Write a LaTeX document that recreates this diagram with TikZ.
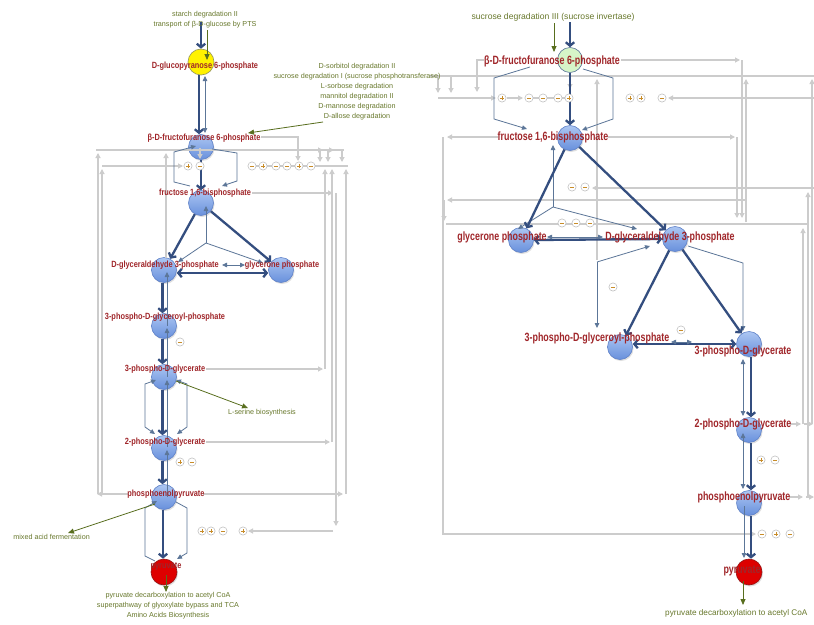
\documentclass[tikz,border=0pt]{standalone}
\usepackage{fontspec}
\setmainfont{Liberation Sans}
\newfontfamily\labLf[FakeStretch=0.82]{Liberation Sans}
\newfontfamily\labRf[FakeStretch=0.74]{Liberation Sans}
\newfontfamily\grnf{Liberation Sans}
\usetikzlibrary{arrows.meta,shadows}
\definecolor{labc}{RGB}{160,38,42}
\definecolor{thk}{RGB}{52,78,127}
\definecolor{thn}{RGB}{92,118,152}
\definecolor{gryc}{RGB}{204,204,204}
\definecolor{grnc}{RGB}{88,110,30}
\definecolor{grt}{RGB}{104,120,44}
\definecolor{sgnc}{RGB}{200,140,40}
\definecolor{regb}{RGB}{185,185,185}
\definecolor{mett}{RGB}{172,198,242}
\definecolor{metbt}{RGB}{104,144,220}
\definecolor{metb}{RGB}{96,130,200}
\definecolor{yelc}{RGB}{255,242,0}
\definecolor{yelb}{RGB}{150,150,90}
\definecolor{lgc}{RGB}{214,245,200}
\definecolor{redc}{RGB}{222,0,0}
\definecolor{redb}{RGB}{150,20,20}
\tikzset{
 met/.style={circle,inner sep=0,minimum size=25pt,draw=metb,line width=0.6pt,top color=mett,bottom color=metbt,drop shadow={opacity=0.25,shadow xshift=1pt,shadow yshift=-1.5pt}},
 metY/.style={circle,inner sep=0,minimum size=26pt,draw=yelb,line width=0.6pt,fill=yelc},
 metG/.style={circle,inner sep=0,minimum size=25pt,draw=thn,line width=0.6pt,fill=lgc},
 metR/.style={circle,inner sep=0,minimum size=26pt,draw=redb,line width=0.6pt,fill=redc,drop shadow={opacity=0.25,shadow xshift=1pt,shadow yshift=-1.5pt}},
 ll/.style={text=labc,font=\labLf\bfseries\fontsize{9}{9}\selectfont,inner sep=0},
 lr/.style={text=labc,font=\labRf\bfseries\fontsize{12}{12}\selectfont,inner sep=0},
 gt/.style={text=grt,font=\grnf\fontsize{7.2}{10}\selectfont,inner sep=0,align=center},
 gtr/.style={text=grt,font=\grnf\fontsize{8.6}{10}\selectfont,inner sep=0},
 tk/.style={draw=thk,line width=2.3pt,-{Straight Barb[length=3.5pt,width=8.5pt]}},
 tkb/.style={draw=thk,line width=2.3pt,{Straight Barb[length=3.5pt,width=8.5pt]}-{Straight Barb[length=3.5pt,width=8.5pt]}},
 tnl/.style={draw=thn,line width=0.8pt},
 tn/.style={draw=thn,line width=0.8pt,-{Triangle[length=5pt,width=4.5pt]}},
 tnb/.style={draw=thn,line width=0.8pt,{Triangle[length=5pt,width=4.5pt]}-{Triangle[length=5pt,width=4.5pt]}},
 gl/.style={draw=gryc,line width=1.1pt},
 ga/.style={draw=gryc,line width=1.1pt,-{Triangle[length=5pt,width=5pt]}},
 gn/.style={draw=grnc,line width=0.8pt,-{Triangle[length=6pt,width=5pt]}},
 rp/.pic={\draw[draw=regb,fill=white,line width=0.5pt] (0,0) circle (4.1);
          \draw[sgnc,line width=0.9pt] (-2.2,0)--(2.2,0) (0,-2.2)--(0,2.2);},
 rm/.pic={\draw[draw=regb,fill=white,line width=0.5pt] (0,0) circle (4.1);
          \draw[sgnc,line width=0.9pt] (-2.2,0)--(2.2,0);}
}
\begin{document}
\begin{tikzpicture}[x=1pt,y=-1pt]
\useasboundingbox (0,0) rectangle (814,624);
\fill[white] (0,0) rectangle (814,624);

% ================= LEFT: metabolite circles =================
\node[metY] (A1) at (201,62) {};
\node[met] (A2) at (201,147) {};
\node[met] (A3) at (201,203) {};
\node[met] (A4) at (164,270) {};
\node[met] (A5) at (281,270) {};
\node[met] (A6) at (164,326) {};
\node[met] (A7) at (164,377) {};
\node[met] (A8) at (164,448) {};
\node[met] (A9) at (164,497) {};
\node[metR] (A10) at (164,572) {};

% ================= RIGHT: metabolite circles =================
\node[metG] (B1) at (570,60) {};
\node[met] (B2) at (570,138) {};
\node[met] (B3) at (521,240) {};
\node[met] (B4) at (675,239) {};
\node[met] (B5) at (620,347) {};
\node[met] (B6) at (749,344) {};
\node[met] (B7) at (749,430) {};
\node[met] (B8) at (749,503) {};
\node[metR] (B9) at (749,572) {};

% ================= LEFT: gray regulation lines =================
\draw[ga] (128,494) -- (97,494);
\draw[ga] (98,494) -- (98,153);
\draw[gl] (96,150) -- (344,150);
\draw[ga] (102,494) -- (102,169);
\draw[ga] (102,166) -- (183,166);
\draw[ga] (166,258) -- (166,153);
\draw[ga] (261,137) -- (298,137) -- (298,161);
\draw[ga] (320,150) -- (320,162);
\draw[ga] (328,150) -- (328,162);
\draw[ga] (342,150) -- (342,162);
\draw[ga] (310,150) -- (323,150);
\draw[ga] (325,150) -- (334,150);
\draw[gl] (256,166) -- (348,166);
\draw[ga] (206,369) -- (323,369);
\draw[ga] (325,369) -- (325,169);
\draw[ga] (206,442) -- (330,442);
\draw[ga] (332,442) -- (332,169);
\draw[ga] (203,494) -- (343,494);
\draw[ga] (346,494) -- (346,169);
\draw[ga] (252,193) -- (333,193);
\draw[ga] (336,193) -- (336,526);
\draw[ga] (333,531) -- (248,531);
\draw[ga] (200,148) -- (200,159);

% ================= RIGHT: gray regulation lines =================
\draw[ga] (484,60) -- (477,60) -- (477,92);
\draw[ga] (621,60) -- (740,60);
\draw[ga] (742,60) -- (742,218);
\draw[gl] (430,76) -- (814,76);
\draw[ga] (438,76) -- (438,93);
\draw[ga] (451,76) -- (451,93);
\draw[ga] (597,260) -- (597,79);
\draw[ga] (746,222) -- (746,79);
\draw[ga] (812,424) -- (812,79);
\draw[ga] (438,98) -- (496,98);
\draw[ga] (507,98) -- (523,98);
\draw[gl] (533,98) -- (566,98);
\draw[ga] (814,98) -- (668,98);
\draw[ga] (570,76) -- (570,89);
\draw[ga] (608,137) -- (735,137);
\draw[ga] (737,137) -- (737,218);
\draw[ga] (498,137) -- (447,137);
\draw[ga] (443,137) -- (443,534) -- (756,534);
\draw[ga] (814,188) -- (592,188);
\draw[ga] (808,497) -- (808,192);
\draw[ga] (745,200) -- (447,200);
\draw[ga] (444,200) -- (444,221);
\draw[gl] (446,224) -- (808,224);
\draw[ga] (803,424) -- (803,228);
\draw[ga] (790,424) -- (801,424);
\draw[ga] (804,424) -- (813,424);
\draw[ga] (789,497) -- (803,497);
\draw[ga] (806,497) -- (814,497);

% ================= LEFT: reactions =================
\coordinate (inL) at (201,22);
\draw[tk] (inL) -- (A1.north);
\draw[gn] (207,30) -- (207,60);
\draw[tk] ([xshift=-2pt]A1.south) -- ([xshift=-2pt]A2.north);
\draw[tnb] (205,76) -- (205,133);
\draw[gn] (323,122) -- (248,133);
\draw[tk] (A2.south) -- (A3.north);
\draw[tn] (190,186) -- (174,182) -- (174,152) -- (196,146);
\draw[tn] (212,149) -- (237,153) -- (237,181) -- (222,186);
\coordinate (cL) at (206,243);
\draw[tn] (cL) -- (206,206);
\draw[tn] (cL) -- (178,262);
\draw[tn] (cL) -- (263,263);
\draw[tk] (A3) -- (A4);
\draw[tk] (A3) -- (A5);
\draw[tkb] ([yshift=-3pt]A4.east) -- ([yshift=-3pt]A5.west);
\draw[tnb] (222,265) -- (245,265);
\draw[tk] ([xshift=-1.5pt]A4.south) -- ([xshift=-1.5pt]A6.north);
\draw[tn] (167,326) -- (167,272);
\draw[tk] ([xshift=-1.5pt]A6.south) -- ([xshift=-1.5pt]A7.north);
\draw[tn] (167,377) -- (167,328);
\draw[tk] ([xshift=-1.5pt]A7.south) -- ([xshift=-1.5pt]A8.north);
\draw[tn] (167,447) -- (167,380);
\draw[tnb] (156,380) -- (145,384) -- (145,427) -- (155,434);
\draw[tnb] (176,380) -- (187,384) -- (187,427) -- (177,434);
\draw[gn] (176,381) -- (248,408);
\draw[tk] ([xshift=-1.5pt]A8.south) -- ([xshift=-1.5pt]A9.north);
\draw[tn] (167,497) -- (167,450);
\draw[tk] ([xshift=-1pt]A9.south) -- ([xshift=-1pt]A10.north);
\draw[tn] (155,561) -- (145,556) -- (145,508) -- (157,501);
\draw[tn] (176,502) -- (187,508) -- (187,553) -- (177,559);
\draw[gn] (155,504) -- (68,533);
\draw[gn] (166,575) -- (166,592);

% ================= RIGHT: reactions =================
\coordinate (inR) at (570,22);
\draw[tk] (inR) -- (B1.north);
\draw[gn] (554,23) -- (554,52);
\draw[tk] (B1.south) -- (B2.north);
\draw[tn] (530,67) -- (494,78) -- (494,119) -- (527,129);
\draw[tn] (583,69) -- (613,78) -- (613,119) -- (582,130);
\coordinate (cR) at (553,207);
\draw[tn] (cR) -- (553,145);
\draw[tn] (cR) -- (518,229);
\draw[tn] (cR) -- (637,229);
\draw[tk] (B2) -- (B3);
\draw[tk] (B2) -- (B4);
\draw[tkb] (B3.east) -- (B4.west);
\draw[tnb] (547,237) -- (603,237);
\coordinate (cR2) at (597,262);
\draw[tn] (cR2) -- (597,328);
\draw[tn] (cR2) -- (650,246);
\draw[tn] (688,246) -- (743,263) -- (743,331);
\draw[tk] (B4) -- (B5);
\draw[tk] (B4) -- (B6);
\draw[tkb] ([yshift=3pt]B5.east) -- (B6.west);
\draw[tnb] (671,342) -- (692,342);
\draw[tk] ([xshift=2pt]B6.south) -- ([xshift=2pt]B7.north);
\draw[tnb] (743,359) -- (743,416);
\draw[tk] ([xshift=2pt]B7.south) -- ([xshift=2pt]B8.north);
\draw[tnb] (743,433) -- (743,489);
\draw[tk] ([xshift=2pt]B8.south) -- ([xshift=2pt]B9.north);
\draw[tn] (744,506) -- (744,558);
\draw[gn] (743,581) -- (743,605);

% ================= regulation symbols =================
\pic at (188,166) {rp};
\pic at (200,166) {rm};
\pic at (252,166) {rm};
\pic at (263,166) {rp};
\pic at (276,166) {rm};
\pic at (287,166) {rm};
\pic at (299,166) {rp};
\pic at (311,166) {rm};
\pic at (180,342) {rm};
\pic at (180,462) {rp};
\pic at (192,462) {rm};
\pic at (202,531) {rp};
\pic at (211,531) {rp};
\pic at (223,531) {rm};
\pic at (243,531) {rp};
\pic at (502,98) {rp};
\pic at (529,98) {rm};
\pic at (543,98) {rm};
\pic at (558,98) {rm};
\pic at (569,98) {rp};
\pic at (630,98) {rp};
\pic at (641,98) {rp};
\pic at (662,98) {rm};
\pic at (572,187) {rm};
\pic at (585,187) {rm};
\pic at (562,223) {rm};
\pic at (576,223) {rm};
\pic at (590,223) {rm};
\pic at (613,287) {rm};
\pic at (681,330) {rm};
\pic at (761,460) {rp};
\pic at (775,460) {rm};
\pic at (762,534) {rm};
\pic at (776,534) {rp};
\pic at (790,534) {rm};

% ================= LEFT: labels =================
\node[ll] (A1t) at (205,66) {D-glucopyranose 6-phosphate};
\node[ll] (A2t) at (204,138) {β-D-fructofuranose 6-phosphate};
\node[ll] (A3t) at (205,193) {fructose 1,6-bisphosphate};
\node[ll] (A4t) at (165,265) {D-glyceraldehyde 3-phosphate};
\node[ll] (A5t) at (282,265) {glycerone phosphate};
\node[ll] (A6t) at (165,317) {3-phospho-D-glyceroyl-phosphate};
\node[ll] (A7t) at (165,369) {3-phospho-D-glycerate};
\node[ll] (A8t) at (165,442) {2-phospho-D-glycerate};
\node[ll] (A9t) at (166,494) {phosphoenolpyruvate};
\node[ll] (A10t) at (166,566) {pyruvate};

% ================= RIGHT: labels =================
\node[lr] (B1t) at (552,61) {β-D-fructofuranose 6-phosphate};
\node[lr] (B2t) at (553,137) {fructose 1,6-bisphosphate};
\node[lr] (B3t) at (502,237) {glycerone phosphate};
\node[lr] (B4t) at (670,237) {D-glyceraldehyde 3-phosphate};
\node[lr] (B5t) at (597,338) {3-phospho-D-glyceroyl-phosphate};
\node[lr] (B6t) at (743,351) {3-phospho-D-glycerate};
\node[lr] (B7t) at (743,424) {2-phospho-D-glycerate};
\node[lr] (B8t) at (744,497) {phosphoenolpyruvate};
\node[lr] (B9t) at (742,571) {pyruvate};

% ================= green pathway texts =================
\node[gt] (g1) at (205,15) {starch degradation II};
\node[gt] (g2) at (205,25) {transport of β-D-glucose by PTS};
\node[gt,anchor=north] (g3) at (357,63) {D-sorbitol degradation II\\sucrose degradation I (sucrose phosphotransferase)\\L-sorbose degradation\\mannitol degradation II\\D-mannose degradation\\D-allose degradation};
\node[gt] (g4) at (262,413) {L-serine biosynthesis};
\node[gt,anchor=east] (g5) at (90,537) {mixed acid fermentation};
\node[gt,anchor=north] (g6) at (168,592) {pyruvate decarboxylation to acetyl CoA\\superpathway of glyoxylate bypass and TCA\\Amino Acids Biosynthesis};
\node[gtr] (g7) at (553,17) {sucrose degradation III (sucrose invertase)};
\node[gtr,font=\grnf\fontsize{8.2}{10}\selectfont,anchor=west] (g8) at (665,613) {pyruvate decarboxylation to acetyl CoA};
\end{tikzpicture}
\end{document}
